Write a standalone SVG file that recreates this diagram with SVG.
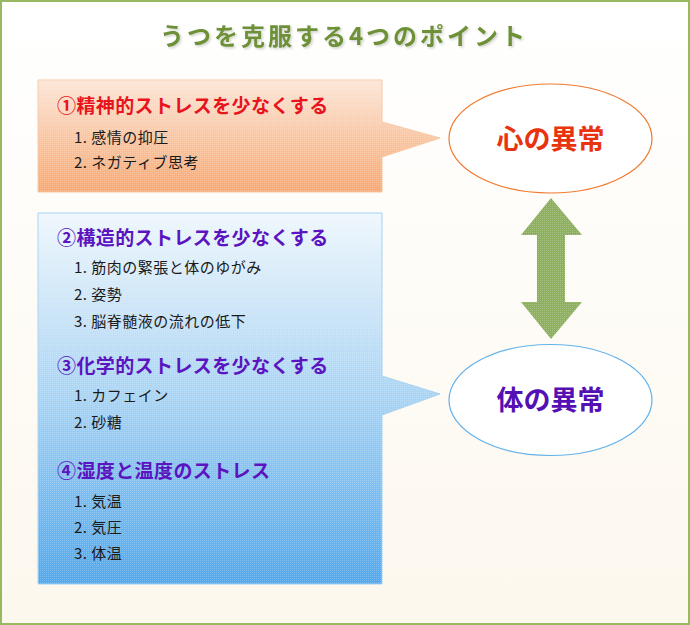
<svg xmlns="http://www.w3.org/2000/svg" width="690" height="625" viewBox="0 0 690 625">
<defs>
<linearGradient id="bg" x1="0" y1="0" x2="0" y2="1"><stop offset="0" stop-color="#ffffff"/><stop offset="1" stop-color="#fdf8ee"/></linearGradient>
<linearGradient id="og" x1="0" y1="0" x2="0" y2="1"><stop offset="0" stop-color="#fde6d6"/><stop offset="1" stop-color="#f8a872"/></linearGradient>
<linearGradient id="bg2" x1="0" y1="0" x2="0" y2="1"><stop offset="0" stop-color="#eef7fd"/><stop offset="0.5" stop-color="#a8d4f5"/><stop offset="1" stop-color="#52a8ec"/></linearGradient>
<pattern id="dots" x="0" y="0" width="2" height="2" patternUnits="userSpaceOnUse"><rect x="0" y="0" width="1" height="1" fill="#ffffff" fill-opacity="0.22"/></pattern>
<filter id="sh" x="-5%" y="-20%" width="110%" height="140%"><feDropShadow dx="1.5" dy="1.5" stdDeviation="0.8" flood-color="#000" flood-opacity="0.18"/></filter>
</defs>
<style>
text{font-family:"Noto Sans CJK JP","Noto Sans",sans-serif;}
.h{font-size:19px;font-weight:bold;letter-spacing:0.4px;}
.hr{fill:#e8141c;}
.hp{fill:#5a14c0;}
.it{font-size:15px;fill:#1a1a1a;letter-spacing:0.5px;}
.el{font-size:27px;font-weight:bold;text-anchor:middle;}
</style>
<rect x="1" y="1" width="688" height="623" fill="url(#bg)" stroke="#98b862" stroke-width="2"/>
<text x="344" y="45" text-anchor="middle" font-size="24" font-weight="bold" fill="#6e9138" letter-spacing="3" filter="url(#sh)">うつを克服する4つのポイント</text>

<g id="callout-mental">
<path d="M38,80 H382 V122 L440,138 L382,157 V192 H38 Z" fill="url(#og)" stroke="#f8c8a4" stroke-width="1"/>
<path d="M38,80 H382 V122 L440,138 L382,157 V192 H38 Z" fill="url(#dots)"/>
<text class="h hr" x="57" y="113">①精神的ストレスを少なくする</text>
<text class="it" x="74" y="143">1. 感情の抑圧</text>
<text class="it" x="74" y="168">2. ネガティブ思考</text>
</g>

<g id="callout-body">
<path d="M38,213 H382 V376 L440,394 L382,415 V584 H38 Z" fill="url(#bg2)" stroke="#a6d2f2" stroke-width="1"/>
<path d="M38,213 H382 V376 L440,394 L382,415 V584 H38 Z" fill="url(#dots)"/>
<text class="h hp" x="57" y="245">②構造的ストレスを少なくする</text>
<text class="it" x="74" y="273">1. 筋肉の緊張と体のゆがみ</text>
<text class="it" x="74" y="300">2. 姿勢</text>
<text class="it" x="74" y="327">3. 脳脊髄液の流れの低下</text>
<text class="h hp" x="57" y="373">③化学的ストレスを少なくする</text>
<text class="it" x="74" y="401">1. カフェイン</text>
<text class="it" x="74" y="428">2. 砂糖</text>
<text class="h hp" x="57" y="478">④湿度と温度のストレス</text>
<text class="it" x="74" y="507">1. 気温</text>
<text class="it" x="74" y="533">2. 気圧</text>
<text class="it" x="74" y="559">3. 体温</text>
</g>

<g id="node-mind">
<ellipse cx="550.5" cy="138.5" rx="101.5" ry="54.5" fill="#ffffff" stroke="#f07a30" stroke-width="1.2"/>
<text class="el" x="550.5" y="149" fill="#e8340e">心の異常</text>
</g>

<g id="node-body">
<ellipse cx="550.5" cy="400" rx="101.5" ry="55.5" fill="#ffffff" stroke="#64b2ea" stroke-width="1.2"/>
<text class="el" x="550.5" y="410" fill="#5410b4">体の異常</text>
</g>

<g id="connectors">
<polygon points="551,198 582,235 565,235 565,302 582,302 551,339 521,302 537,302 537,235 521,235" fill="#8db05e"/>
<polygon points="551,198 582,235 565,235 565,302 582,302 551,339 521,302 537,302 537,235 521,235" fill="url(#dots)"/>
</g>
</svg>
